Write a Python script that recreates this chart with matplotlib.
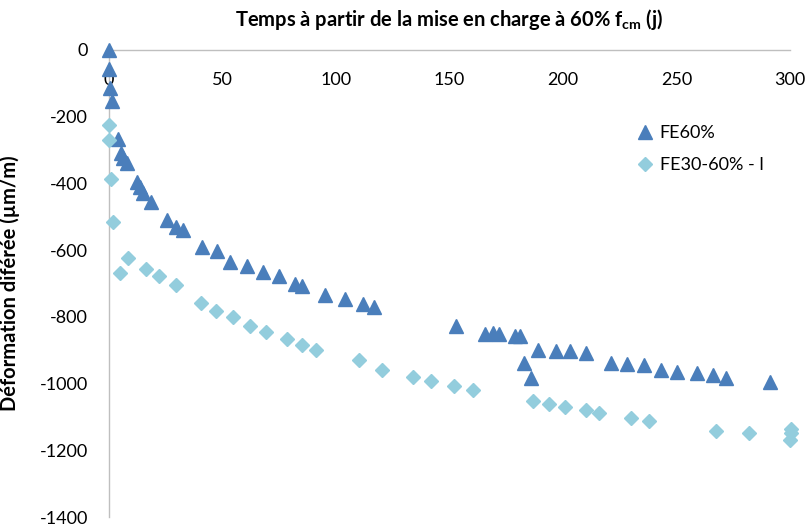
import matplotlib
matplotlib.use("Agg")
import matplotlib.pyplot as plt

plt.rcParams['font.family'] = ['Lato', 'DejaVu Sans']
plt.rcParams['axes.unicode_minus'] = False

# FE60% (triangles)
fe60_t = [0, 0, 0.5, 1.3, 4.1, 5.1, 6.3, 7.8, 12.2, 13.7, 14.8, 18.5, 25.7, 29.5, 32.7,
          40.8, 47.4, 53.3, 60.7, 67.7, 74.9, 81.9, 84.9, 95.2, 104, 111.8, 116.8,
          152.9, 165.6, 169, 171.9, 178.9, 181, 183, 185.9, 189.1, 196.9, 203.1, 210.1,
          221.1, 228, 235.7, 243.2, 250.1, 259.2, 266.2, 271.8, 291.2]
fe60_d = [0, -57, -114, -153, -267, -308, -325, -340, -395, -410, -428, -457, -510, -530, -540,
          -590, -602, -637, -647, -667, -678, -700, -708, -735, -746, -761, -770,
          -828, -850, -848, -850, -857, -858, -938, -983, -900, -902, -903, -908,
          -937, -942, -945, -960, -965, -967, -975, -982, -995]

# FE30-60% - l (diamonds)
fe30_t = [0.1, 0.1, 0.7, 1.9, 8.2, 4.8, 16.2, 22.0, 29.4, 40.4, 47.1, 54.8, 62.1, 69, 78.3,
          85.2, 91, 110.1, 120.1, 134.1, 141.9, 152.1, 160.2, 186.9, 194, 201, 210.1, 216,
          230, 238, 267.3, 282.1, 300.3, 300.3, 300]
fe30_d = [-225, -270, -388, -515, -625, -668, -658, -677, -705, -757, -783, -800, -827, -845, -867,
          -883, -898, -929, -958, -980, -992, -1008, -1018, -1052, -1062, -1070, -1080, -1088,
          -1103, -1112, -1143, -1148, -1137, -1147, -1168]

fig = plt.figure(figsize=(8.08, 5.29), dpi=100)
ax = fig.add_axes([109 / 808, 1 - 517 / 529, 681 / 808, 467 / 529])

ax.plot(fe60_t, fe60_d, linestyle='none', marker='^', ms=10, color='#4A7EBB',
        markeredgecolor='#4A7EBB', label='FE60%', clip_on=False, zorder=3)
ax.plot(fe30_t, fe30_d, linestyle='none', marker='D', ms=7, color='#93CDDD',
        markeredgecolor='#93CDDD', label='FE30-60% - l', clip_on=False, zorder=3)

ax.set_xlim(0, 300)
ax.set_ylim(-1400, 0)
ax.set_xticks(range(0, 301, 50))
ax.set_yticks(range(-1400, 1, 200))

ax.spines['right'].set_visible(False)
ax.spines['top'].set_visible(False)
ax.spines['bottom'].set_position(('data', 0))
for s in ['bottom', 'left']:
    ax.spines[s].set_color('#BFBFBF')
    ax.spines[s].set_linewidth(1)
ax.tick_params(axis='x', length=0, pad=16, labelsize=13)
ax.tick_params(axis='y', length=0, pad=15, labelsize=13)

fig.text(449.5 / 808, 1 - 20 / 529,
         r'Temps à partir de la mise en charge à 60% f$\mathregular{_{cm}}$ (j)',
         ha='center', va='center', fontsize=14.5, fontweight='bold')
ax.set_ylabel('Déformation diférée (µm/m)', fontsize=14.5, fontweight='bold')
ax.yaxis.set_label_coords(-89 / 681, 0.5)

ax.legend(loc='upper left', bbox_to_anchor=(627 / 808, 1 - 118 / 529),
          bbox_transform=fig.transFigure, frameon=False, fontsize=13,
          handletextpad=0.2, labelspacing=0.9, handlelength=1.2, borderaxespad=0)

fig.savefig('out.png', dpi=100)
